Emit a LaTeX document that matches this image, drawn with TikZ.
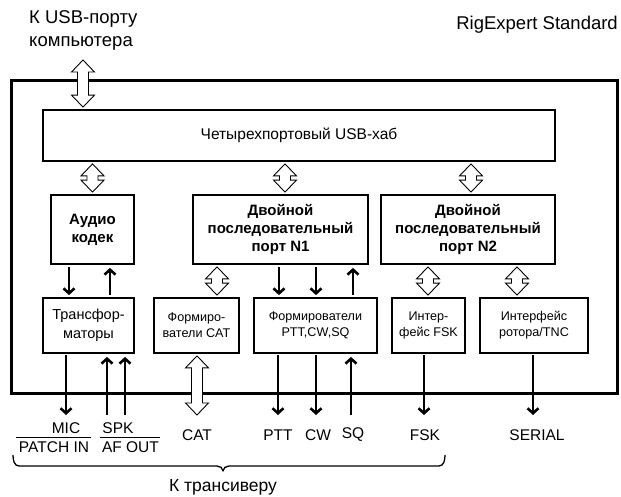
\documentclass[tikz,border=0pt]{standalone}
\usepackage{fontspec}
\setmainfont{Liberation Sans}
\usetikzlibrary{arrows.meta,calc}
% hollow double arrow between two points on one vertical line
\newcommand\hollowarrow[3][2pt]{%
  \draw[hollow] let \p1=#2, \p2=#3 in
   (\x1,\y1-#1) -- (\x1+11.5pt,\y1-#1-12pt) -- (\x1+5.5pt,\y1-#1-12pt)
   -- (\x1+5.5pt,\y2+#1+12pt) -- (\x1+11.5pt,\y2+#1+12pt) -- (\x1,\y2+#1)
   -- (\x1-11.5pt,\y2+#1+12pt) -- (\x1-5.5pt,\y2+#1+12pt)
   -- (\x1-5.5pt,\y1-#1-12pt) -- (\x1-11.5pt,\y1-#1-12pt) -- cycle;}
\begin{document}
\begin{tikzpicture}[x=1pt,y=-1pt,
  box/.style={draw, line width=1.8pt, inner sep=0pt, align=center},
  boldtext/.style={font=\fontsize{15}{18}\selectfont\bfseries},
  smalltext/.style={font=\fontsize{12.6}{16}\selectfont},
  arr/.style={line width=2.6pt, -{Straight Barb[length=5pt,width=11pt]}},
  hollow/.style={fill=white, line width=0.9pt, line join=miter},
  lbl/.style={font=\fontsize{15.5}{18}\selectfont, inner sep=0pt},
  title/.style={font=\fontsize{18.5}{23}\selectfont, inner sep=0pt, align=left}
]
\useasboundingbox (0,0) rectangle (621,497);

% outer frame
\node[draw, line width=3pt, minimum width=606pt, minimum height=312pt, inner sep=0pt] (outer) at (314,237) {};

% titles
\node[title, anchor=north west] (usbtitle) at (29,10) {К USB-порту\\компьютера};
\node[title, anchor=east] (rig) at (618,25) {RigExpert Standard};

% blocks
\node[box, minimum width=512pt, minimum height=51pt, font=\fontsize{15.5}{18}\selectfont] (hub) at (299,135.5) {Четырехпортовый USB-хаб};
\node[box, boldtext, minimum width=83pt, minimum height=69pt] (codec) at (92.5,229.5) {Аудио\\кодек};
\node[box, boldtext, minimum width=175pt, minimum height=69pt] (n1) at (280.5,229.5) {Двойной\\последовательный\\порт N1};
\node[box, boldtext, minimum width=174pt, minimum height=69pt] (n2) at (468,229.5) {Двойной\\последовательный\\порт N2};

\node[box, minimum width=91pt, minimum height=55pt, font=\fontsize{14.5}{19}\selectfont] (trans) at (88.5,325.5) {Трансфор-\\маторы};
\node[box, smalltext, minimum width=85pt, minimum height=55pt] (cat) at (196.5,325.5) {Формиро-\\ватели CAT};
\node[box, smalltext, minimum width=123pt, minimum height=55pt] (ptt) at (315.5,325.5) {Формирователи\\PTT,CW,SQ};
\node[box, smalltext, minimum width=73pt, minimum height=55pt] (fsk) at (428.5,325.5) {Интер-\\фейс FSK};
\node[box, smalltext, minimum width=108pt, minimum height=55pt] (rot) at (534,325.5) {Интерфейс\\ротора/TNC};

% column coordinates
\coordinate (usb) at (83,58);
\coordinate (hA) at (92.5,0);
\coordinate (hB) at (285,0);
\coordinate (hC) at (471,0);
\coordinate (cA) at (69,0);
\coordinate (cB) at (110,0);
\coordinate (cC) at (217,0);
\coordinate (cD) at (279,0);
\coordinate (cE) at (316,0);
\coordinate (cF) at (353,0);
\coordinate (cG) at (428,0);
\coordinate (cH) at (517,0);

% free ends at the bottom
\coordinate (emic) at (66,415);
\coordinate (espk1) at (107,415);
\coordinate (espk2) at (125,415);
\coordinate (ecat) at (197,415);
\coordinate (eptt) at (278,415);
\coordinate (ecw) at (316,415);
\coordinate (esq) at (351,415);
\coordinate (efsk) at (424,415);
\coordinate (eser) at (533,415);

% hollow double arrows
\hollowarrow{(usb)}{(hub.north -| usb)}
\hollowarrow{(hub.south -| hA)}{(codec.north -| hA)}
\hollowarrow{(hub.south -| hB)}{(n1.north -| hB)}
\hollowarrow{(hub.south -| hC)}{(n2.north -| hC)}
\hollowarrow{(n1.south -| cC)}{(cat.north -| cC)}
\hollowarrow{(n2.south -| cG)}{(fsk.north -| cG)}
\hollowarrow{(n2.south -| cH)}{(rot.north -| cH)}
\hollowarrow{(cat.south -| ecat)}{([yshift=-2pt]ecat)}

% solid arrows between blocks
\draw[arr, shorten <=2pt, shorten >=2pt] (codec.south -| cA) -- (trans.north -| cA);
\draw[arr, shorten <=2pt, shorten >=3pt] (trans.north -| cB) -- (codec.south -| cB);
\draw[arr, shorten <=2pt, shorten >=2pt] (n1.south -| cD) -- (ptt.north -| cD);
\draw[arr, shorten <=2pt, shorten >=2pt] (n1.south -| cE) -- (ptt.north -| cE);
\draw[arr, shorten <=2pt, shorten >=3pt] (ptt.north -| cF) -- (n1.south -| cF);

% arrows to/from the transceiver
\draw[arr, shorten <=1pt] (trans.south -| emic) -- (emic);
\draw[arr, shorten >=3pt] (espk1) -- (trans.south -| espk1);
\draw[arr, shorten >=3pt] (espk2) -- (trans.south -| espk2);
\draw[arr, shorten <=1pt] (ptt.south -| eptt) -- (eptt);
\draw[arr, shorten <=1pt] (ptt.south -| ecw) -- (ecw);
\draw[arr, shorten >=3pt] (esq) -- (ptt.south -| esq);
\draw[arr, shorten <=1pt] (fsk.south -| efsk) -- (efsk);
\draw[arr, shorten <=1pt] (rot.south -| eser) -- (eser);

% labels
\node[lbl] (lmic) at (66,428) {MIC};
\node[lbl] (lspk) at (118,428) {SPK};
\node[lbl] (lpatch) at (54,447) {PATCH IN};
\node[lbl] (laf) at (130.5,447) {AF OUT};
\draw[line width=1pt] (16,437) -- (91,437);
\draw[line width=1pt] (100,437) -- (160,437);
\node[lbl] (lcat) at (197,435) {CAT};
\node[lbl] (lptt) at (278,435) {PTT};
\node[lbl] (lcw) at (318,435) {CW};
\node[lbl] (lsq) at (353,435) {SQ};
\node[lbl] (lfsk) at (425,435) {FSK};
\node[lbl] (lser) at (537,435) {SERIAL};

% brace
\draw[line width=1.3pt, line join=round] (13,455) to[out=-90,in=180] (19,466) -- (217,466)
  to[out=0,in=90] (223,471) to[out=90,in=180] (229,466) -- (439,466) to[out=0,in=-90] (445,455);
\node[lbl, font=\fontsize{17.5}{20}\selectfont] (trx) at (223,487) {К трансиверу};
\end{tikzpicture}
\end{document}
